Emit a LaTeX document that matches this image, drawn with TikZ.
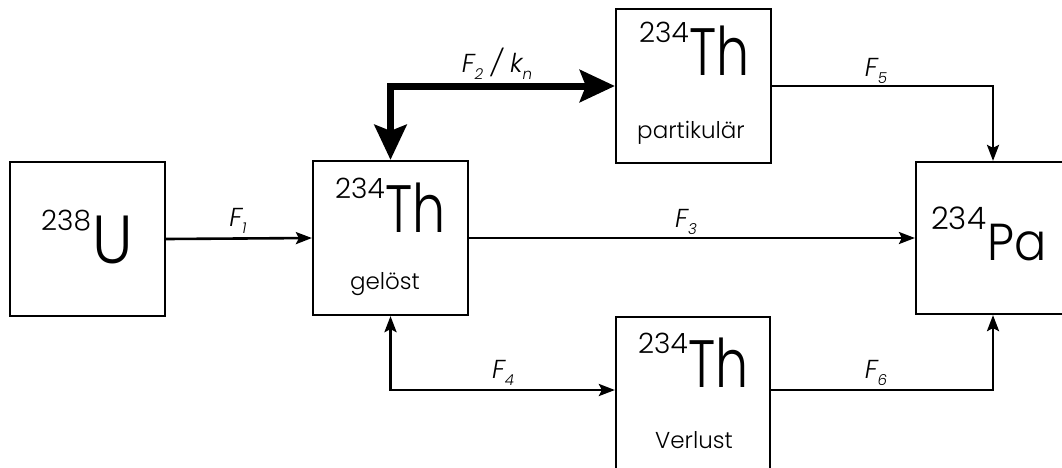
\documentclass[tikz,border=0pt]{standalone}
\usepackage{fontspec}
\setmainfont{Poppins}[UprightFont=* Light, ItalicFont=* Light Italic]
\usetikzlibrary{arrows.meta}
\newcommand\isot[6]{\raisebox{#3pt}{\fontsize{#5}{#5}\selectfont #1}\hspace{1pt}{\fontsize{#4}{#4}\selectfont\scalebox{#6}[1]{#2}}}
\newcommand\flab[2]{#1\raisebox{-7pt}{\fontsize{15}{15}\selectfont #2}}
\begin{document}
\begin{tikzpicture}[x=1pt,y=-1pt,
  box/.style={draw, line width=2.2pt, inner sep=0pt},
  txt/.style={inner sep=0pt, anchor=base west},
  word/.style={inner sep=0pt, anchor=base, font=\fontsize{23}{23}\selectfont},
  lab/.style={inner sep=0pt, anchor=base, font=\fontsize{26}{26}\selectfont\itshape},
  thin/.style={line width=2.6pt, -{Stealth[length=16pt,width=12pt,inset=3pt]}},
  thinboth/.style={line width=2.8pt, {Stealth[length=16pt,width=12pt,inset=3pt]}-{Stealth[length=16pt,width=12pt,inset=3pt]}},
  thick/.style={line width=7pt, {Stealth[length=35pt,width=32pt,inset=6pt]}-{Stealth[length=35pt,width=32pt,inset=6pt]}}]
\useasboundingbox (0,0) rectangle (1062,467);
\clip (0,0) rectangle (1062,467);
\fill[white] (0,0) rectangle (1062,467);
% boxes
\node[box, minimum width=155pt, minimum height=154pt] (u) at (87.5,239) {};
\node[box, minimum width=155pt, minimum height=154pt] (gel) at (390.5,238) {};
\node[box, minimum width=155pt, minimum height=154pt] (part) at (693.5,86) {};
\node[box, minimum width=154pt, minimum height=158pt] (verl) at (693,396) {};
\node[box, minimum width=154pt, minimum height=152pt] (pa) at (993,238) {};
% texts
\node[txt] (tu) at (41,263) {\isot{238}{U}{33}{68}{28}{0.9}};
\node[txt] (tgel) at (335,232) {\isot{234}{Th}{34}{67}{28}{0.78}};
\node[word] (wgel) at (385,289) {gelöst};
\node[txt] (tpart) at (639,75) {\isot{234}{Th}{33}{67}{28}{0.78}};
\node[word] (wpart) at (691,138) {partikulär};
\node[txt] (tverl) at (638,387) {\isot{234}{Th}{34}{67}{28}{0.78}};
\node[word] (wverl) at (694,448) {Verlust};
\node[txt] (tpa) at (931,260) {\isot{234}{Pa}{31}{52}{31}{0.92}};
% connectors
\draw[thin] (u.east) -- (gel.west);
\draw[thick] (gel.north) |- (part.west);
\draw[thin] (gel.east) -- (pa.west);
\draw[thinboth] (gel.south) |- ([yshift=6pt]verl.west);
\draw[thin] (part.east) -| (pa.north);
\draw[thin] ([yshift=6pt]verl.east) -| (pa.south);
% labels
\node[lab] (f1) at (238,226) {\flab{F}{1}};
\node[lab] (f2) at (497,72) {\flab{F}{2} / \flab{k}{n}};
\node[lab] (f3) at (686,227) {\flab{F}{3}};
\node[lab] (f4) at (503,378) {\flab{F}{4}};
\node[lab] (f5) at (876,76) {\flab{F}{5}};
\node[lab] (f6) at (876,378) {\flab{F}{6}};
\end{tikzpicture}
\end{document}
